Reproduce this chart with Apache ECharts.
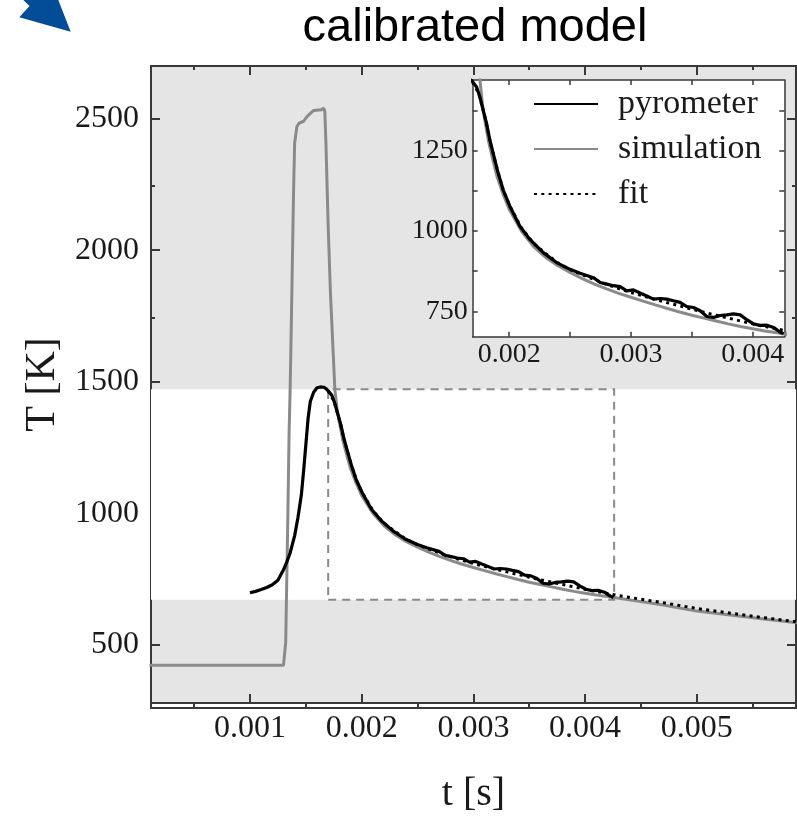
<!DOCTYPE html>
<html>
<head>
<meta charset="utf-8">
<script src="https://cdn.jsdelivr.net/npm/echarts@6/dist/echarts.min.js"></script>
<style>html,body{margin:0;padding:0;background:#fff}#c{width:797px;height:819px}</style>
</head>
<body>
<div id="c"></div>
<script>
// ---- data ----
const pyroT = [0.001,0.00105,0.0011,0.00115,0.0012,0.00125,0.0013,0.00133,0.00136,0.0014,0.00143,0.00146,0.00148,0.0015,0.00152,0.00154,0.00157,0.0016,0.00163,0.00166,0.00168,0.0017,0.001732,0.001759,0.001786,0.001814,0.001841,0.001868,0.001909,0.00195,0.002006,0.002088,0.00217,0.00228,0.002389,0.0025,0.002582,0.002692,0.002747,0.002802,0.002856,0.002911,0.002966,0.00302,0.003075,0.00313,0.003185,0.00324,0.003295,0.003349,0.003404,0.003459,0.003514,0.003569,0.003623,0.003678,0.003733,0.003788,0.003843,0.003898,0.003952,0.004007,0.004062,0.004117,0.004172,0.004227,0.004254];
const pyroK = [698,703,710,718,728,745,785,815,850,915,985,1070,1160,1260,1360,1425,1460,1477,1480,1479,1474,1465,1449,1418,1377,1336,1284,1243,1181,1129,1077,1015,974,933,902,881,869,855,840,835,830,827,814,817,807,798,788,790,788,783,778,765,762,752,734,731,737,739,742,739,724,711,706,707,700,685,680];

const simT = [0.0001,0.0013,0.00131,0.00132,0.00133,0.00134,0.00135,0.00136,0.00137,0.00138,0.00139,0.0014,0.00142,0.00144,0.00148,0.00151,0.00157,0.00164,0.00166,0.00167,0.00168,0.0017,0.00172,0.00174,0.00176,0.00178,0.0018,0.00183,0.00187,0.0019,0.00195,0.002,0.0021,0.0022,0.0023,0.0024,0.0025,0.0026,0.0027,0.0028,0.0029,0.003,0.0031,0.0032,0.0033,0.0034,0.0035,0.0036,0.0037,0.0038,0.0039,0.004,0.0041,0.0042,0.0043,0.0045,0.0047,0.005,0.0053,0.0056,0.0059];
const simK = [422,422,428,510,761,1013,1300,1480,1716,1968,2220,2408,2470,2483,2490,2508,2531,2534,2540,2527,2407,2093,1842,1654,1470,1395,1345,1280,1215,1170,1115,1068,1000,952,918,892,871,852,835,820,806,794,782,770,759,748,738,729,720,711,703,696,689,683,677,664,651,628,613,598,584];

const fitT = [0.0017,0.00175,0.0018,0.00185,0.0019,0.00195,0.002,0.0021,0.0022,0.0023,0.0024,0.0025,0.0026,0.0027,0.0028,0.0029,0.003,0.0031,0.0032,0.0033,0.0034,0.0035,0.0036,0.0037,0.0038,0.0039,0.004,0.0041,0.0042,0.0043,0.0045,0.0047,0.005,0.0053,0.0056,0.0059];
const fitK = [1465,1428,1356,1268,1195,1129,1082,1010,962,930,901,880,864,849,834,821,809,798,787,777,767,757,747,738,729,720,711,703,695,687,673,660,638,620,603,587];

const xMajor = [0.001,0.002,0.003,0.004,0.005];
const xMinor = [0.0005,0.0015,0.0025,0.0035,0.0045,0.0055];
const yMajor = [500,1000,1500,2000,2500];
const yMinor = [750,1250,1750,2250];
const insetXTicks = [0.002,0.0025,0.003,0.0035,0.004];
const insetXLabels = [0.002,0.003,0.004];
const insetYTicks = [750,875,1000,1125,1250,1375];
const insetYLabels = [750,1000,1250];

const X_RANGE = [0.000114, 0.005888];
const Y_RANGE = [278.7, 2700];
const INSET_X = [0.0017, 0.00426];
const INSET_Y = [671, 1471];

const names = ['pyrometer','simulation','fit'];
// ---- chart ----
const zip = (a,b) => a.map((v,i)=>[v,b[i]]);
const SERIF = 'Liberation Serif';
const AX = '#383838';

const mainGridRect = {left:151, top:66, width:645, height:642};
const insetRect = {left:472.7, top:80, width:311.6, height:256.7};

function xax(grid, pos, ticks, len, labels, extra){
  return Object.assign({
    type:'value', gridIndex:grid, position:pos, min:X_RANGE[0], max:X_RANGE[1],
    splitLine:{show:false},
    axisLine:{show:true, onZero:false, lineStyle:{color:AX, width:2}},
    axisTick:{show:true, inside:true, length:len, customValues:ticks, lineStyle:{color:AX, width:2}},
    axisLabel: labels ? {show:true, customValues:labels, formatter:v=>v.toFixed(3), fontFamily:SERIF, fontSize:32, color:'#1a1a1a', margin:10} : {show:false}
  }, extra||{});
}
function yax(grid, pos, ticks, len, labels, extra){
  return Object.assign({
    type:'value', gridIndex:grid, position:pos, min:Y_RANGE[0], max:Y_RANGE[1],
    splitLine:{show:false},
    axisLine:{show:true, onZero:false, lineStyle:{color:AX, width:2}},
    axisTick:{show:true, inside:true, length:len, customValues:ticks, lineStyle:{color:AX, width:2}},
    axisLabel: labels ? {show:true, customValues:labels, formatter:v=>String(v), fontFamily:SERIF, fontSize:32, color:'#1a1a1a', margin:12} : {show:false}
  }, extra||{});
}
function ixax(pos, labels){
  return {
    type:'value', gridIndex:2, position:pos, min:INSET_X[0], max:INSET_X[1], z:12,
    splitLine:{show:false},
    axisLine:{show:true, onZero:false, lineStyle:{color:AX, width:1.5}},
    axisTick:{show:true, inside:true, length:5, customValues:insetXTicks, lineStyle:{color:AX, width:1.5}},
    axisLabel: labels ? {show:true, customValues:insetXLabels, formatter:v=>v.toFixed(3), fontFamily:SERIF, fontSize:28, color:'#1a1a1a', margin:4} : {show:false}
  };
}
function iyax(pos, labels){
  return {
    type:'value', gridIndex:2, position:pos, min:INSET_Y[0], max:INSET_Y[1], z:12,
    splitLine:{show:false},
    axisLine:{show:true, onZero:false, lineStyle:{color:AX, width:1.5}},
    axisTick:{show:true, inside:true, length:5, customValues:insetYTicks, lineStyle:{color:AX, width:1.5}},
    axisLabel: labels ? {show:true, customValues:insetYLabels, formatter:v=>String(v), fontFamily:SERIF, fontSize:28, color:'#1a1a1a', margin:5} : {show:false}
  };
}

const pyroStyle = {color:'#000', width:3.2};
const simStyle = {color:'#8a8a8a', width:3};
const fitStyle = {color:'#000', width:3, type:[3,4.3]};

function lines(xi, yi, z){
  return [
    {name:names[1], type:'line', xAxisIndex:xi, yAxisIndex:yi, data:zip(simT,simK), symbol:'none', z:z, color:'#8a8a8a', lineStyle:simStyle, animation:false},
    {name:names[2], type:'line', xAxisIndex:xi, yAxisIndex:yi, data:zip(fitT,fitK), symbol:'none', z:z, color:'#000', lineStyle:fitStyle, animation:false},
    {name:names[0], type:'line', xAxisIndex:xi, yAxisIndex:yi, data:zip(pyroT,pyroK), symbol:'none', z:z, color:'#000', lineStyle:pyroStyle, animation:false}
  ];
}

const chart = echarts.init(document.getElementById('c'), null, {renderer:'canvas'});
chart.setOption({
  animation:false,
  backgroundColor:'#fff',
  grid:[
    Object.assign({show:true, backgroundColor:'#e5e5e5', borderWidth:0, containLabel:false}, mainGridRect),
    Object.assign({show:false, containLabel:false}, mainGridRect),
    Object.assign({show:true, backgroundColor:'#fff', borderWidth:0, containLabel:false, z:10}, insetRect)
  ],
  xAxis:[
    xax(0,'bottom',xMajor,9,xMajor,{name:'t [s]', nameLocation:'middle', nameGap:71, nameTextStyle:{fontFamily:SERIF, fontSize:40, color:'#1a1a1a'}}),
    xax(0,'top',xMajor,9,null),
    xax(1,'bottom',xMinor,4,null),
    xax(1,'top',xMinor,4,null),
    ixax('bottom',true),
    ixax('top',false)
  ],
  yAxis:[
    yax(0,'left',yMajor,9,yMajor,{name:'T [K]', nameLocation:'middle', nameGap:82, nameRotate:90, nameTextStyle:{fontFamily:SERIF, fontSize:42, color:'#1a1a1a'}}),
    yax(0,'right',yMajor,9,null),
    yax(1,'left',yMinor,4,null),
    yax(1,'right',yMinor,4,null),
    iyax('left',true),
    iyax('right',false)
  ],
  legend:{
    data:names, orient:'vertical', left:533, top:87, z:20, padding:0,
    itemWidth:64, itemHeight:14, itemGap:11,
    itemStyle:{opacity:0},
    textStyle:{fontFamily:SERIF, fontSize:34, color:'#1a1a1a', lineHeight:34, padding:[0,0,0,15]},
    selectedMode:false
  },
  series:[
    {type:'line', xAxisIndex:0, yAxisIndex:0, data:[], z:1, silent:true,
     markArea:{silent:true, itemStyle:{color:'#ffffff'}, data:[[{yAxis:INSET_Y[0]},{yAxis:INSET_Y[1]}]]}},
    {type:'line', xAxisIndex:0, yAxisIndex:0, data:[], z:2, silent:true,
     markArea:{silent:true, itemStyle:{color:'rgba(0,0,0,0)', borderColor:'#8a8a8a', borderWidth:2, borderType:[8,6]},
       data:[[{xAxis:INSET_X[0], yAxis:INSET_Y[0]},{xAxis:INSET_X[1], yAxis:INSET_Y[1]}]]}},
    ...lines(0,0,3),
    ...lines(4,4,13)
  ],
  graphic:[
    {type:'polygon', shape:{points:[[23.3,0],[29.5,6],[19.3,17.3],[70.7,31.7],[58.3,0]]}, style:{fill:'#034c98'}},
    {type:'text', x:475, y:28, style:{text:'calibrated model', font:'47px "Liberation Sans"', fill:'#000', textAlign:'center', textVerticalAlign:'middle'}}
  ]
});
</script>
</body>
</html>
